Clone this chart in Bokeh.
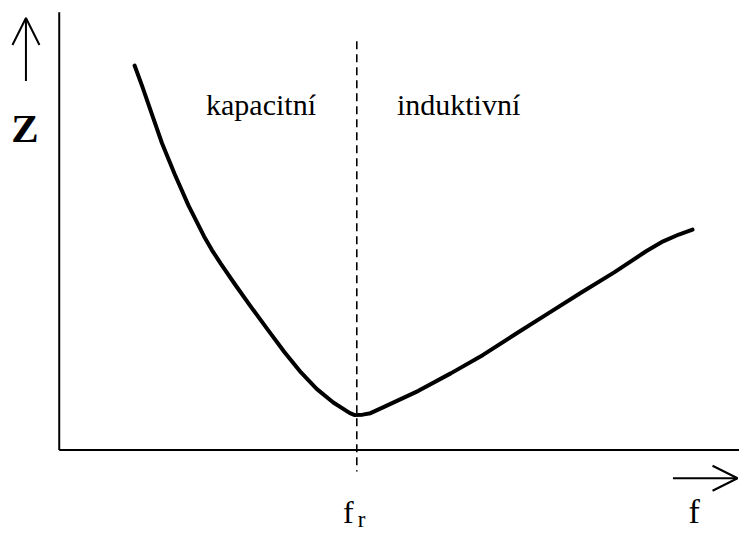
from bokeh.plotting import figure
from bokeh.models import Range1d, Arrow, OpenHead
from bokeh.core.properties import value
from bokeh.embed import file_html
from bokeh.resources import INLINE

# Schematic impedance curve Z(f) of a series resonant circuit (arbitrary units)
f_vals = [77, 85, 95, 105, 118, 132, 148, 156, 165, 180, 197, 213, 230, 247, 263, 280, 297, 302,
          310, 318, 333, 367, 400, 433, 467, 500, 533, 567, 600, 617, 633, 647]
z_vals = [396, 374, 345, 316, 284, 252, 220, 206, 192, 170, 146, 124, 101, 80, 63, 49, 38, 36,
          36.5, 38, 45, 61, 79, 98, 120, 141, 162, 183, 205, 215, 222, 227]
f_res = 304
region_labels = ["kapacitní", "induktivní"]
region_x = [150, 345]
region_y = [356, 356]

p = figure(width=739, height=536, output_backend="svg", toolbar_location=None,
           x_range=Range1d(-60, 695), y_range=Range1d(-89, 463), min_border=0)
p.axis.visible = False
p.grid.visible = False
p.outline_line_color = None
p.background_fill_color = "white"
p.border_fill_color = "white"

# axes lines
p.segment(x0=[0, 0], y0=[0, 0], x1=[0, 700], y1=[451, 0], line_color="black", line_width=2)

# resonance dashed line
p.segment(x0=[f_res], y0=[421], x1=[f_res], y1=[-22], line_color="black",
          line_width=1.6, line_dash="8 5")

# curve
p.line(f_vals, z_vals, line_color="black", line_width=4, line_join="round", line_cap="round")

# direction arrows
p.add_layout(Arrow(end=OpenHead(size=27, line_width=2, line_color="black"),
                   x_start=-34, y_start=380, x_end=-34, y_end=445,
                   line_width=2, line_color="black"))
p.add_layout(Arrow(end=OpenHead(size=25, line_width=2, line_color="black"),
                   x_start=627, y_start=-29, x_end=693, y_end=-29,
                   line_width=2, line_color="black"))

# texts
p.text(x=region_x, y=region_y, text=region_labels, text_font=value("Liberation Serif"),
       text_font_size="30px", text_baseline="alphabetic", text_align="left", text_color="black")
p.text(x=[-35], y=[332], text=["Z"], text_font=value("Liberation Serif"), text_font_style="bold",
       text_font_size="41px", text_baseline="middle", text_align="center", text_color="black")
p.text(x=[f_res - 14], y=[-64], text=["f"], text_font=value("Liberation Serif"),
       text_font_size="32px", text_baseline="alphabetic", text_align="left", text_color="black")
p.text(x=[f_res + 1], y=[-71], text=["r"], text_font=value("Liberation Serif"),
       text_font_size="23px", text_baseline="alphabetic", text_align="left", text_color="black")
p.text(x=[643], y=[-63], text=["f"], text_font=value("Liberation Serif"),
       text_font_size="34px", text_baseline="alphabetic", text_align="left", text_color="black")

open("out.html", "w").write(file_html(p, INLINE))
